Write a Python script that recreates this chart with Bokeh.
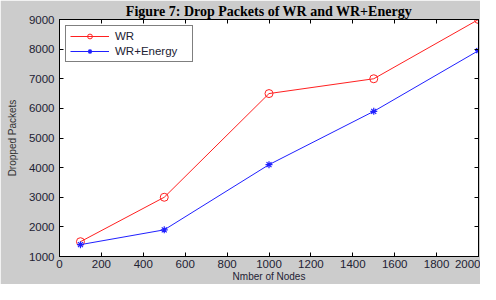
from bokeh.plotting import figure
from bokeh.models import Range1d, LinearAxis, Legend, LegendItem, FixedTicker, CustomJSTickFormatter
from bokeh.embed import file_html
from bokeh.resources import INLINE

# ---- data ----
nodes = [100, 500, 1000, 1500, 2000]
wr = [1500, 3000, 6500, 7000, 9000]
wr_energy = [1400, 1900, 4100, 5900, 7950]
x_ticks = [0, 200, 400, 600, 800, 1000, 1200, 1400, 1600, 1800, 2000]
y_ticks = [1000, 2000, 3000, 4000, 5000, 6000, 7000, 8000, 9000]
series_labels = ["WR", "WR+Energy"]
title_text = "Figure 7: Drop Packets of WR and WR+Energy"
x_label = "Nmber of Nodes"
y_label = "Dropped Packets"

FONT = "Liberation Sans"
TXT = "#222233"

p = figure(width=480, height=284,
           x_range=Range1d(0, 2000), y_range=Range1d(1000, 9000),
           output_backend="svg", toolbar_location=None,
           min_border_left=59, min_border_right=2, min_border_top=0, min_border_bottom=0,
           border_fill_color="#cccccc", background_fill_color="white",
           outline_line_color="black", outline_line_width=1)
p.grid.visible = False

p.title.text = title_text
p.title.text_font = "Liberation Serif"
p.title.text_font_style = "bold"
p.title.text_font_size = "14px"
p.title.text_color = "black"
p.title.align = "center"
p.title.standoff = 2
p.title.offset = 0

def style_axis(ax, ticks):
    ax.ticker = FixedTicker(ticks=ticks)
    ax.axis_line_color = "black"
    ax.major_tick_line_color = "black"
    ax.major_tick_in = 4
    ax.major_tick_out = 0
    ax.minor_tick_line_color = None
    ax.major_label_text_font = FONT
    ax.major_label_text_font_size = "11.5px"
    ax.major_label_text_color = TXT

style_axis(p.xaxis[0], x_ticks)
p.xaxis[0].major_label_standoff = 3
p.xaxis[0].axis_label = x_label
p.xaxis[0].axis_label_text_font = FONT
p.xaxis[0].axis_label_text_font_size = "10px"
p.xaxis[0].axis_label_text_font_style = "normal"
p.xaxis[0].axis_label_text_color = TXT
p.xaxis[0].axis_label_standoff = 0

style_axis(p.yaxis[0], y_ticks)
p.yaxis[0].major_label_standoff = 5
p.yaxis[0].axis_label = y_label
p.yaxis[0].axis_label_text_font = FONT
p.yaxis[0].axis_label_text_font_size = "10px"
p.yaxis[0].axis_label_text_font_style = "normal"
p.yaxis[0].axis_label_text_color = "#333333"
p.yaxis[0].axis_label_standoff = 8

blank = CustomJSTickFormatter(code="return ''")
top = LinearAxis(formatter=blank, major_label_standoff=0)
style_axis(top, x_ticks)
p.add_layout(top, "above")
right = LinearAxis(formatter=blank, major_label_standoff=0)
style_axis(right, y_ticks)
p.add_layout(right, "right")

l1 = p.line(nodes, wr, line_color="#ff2020", line_width=1)
m1 = p.scatter(nodes, wr, marker="circle", size=8, line_color="#ff2020", fill_color=None, line_width=1)
l2 = p.line(nodes, wr_energy, line_color="#2020ff", line_width=1)
m2 = p.scatter(nodes, wr_energy, marker="asterisk", size=7, line_color="#2020ff", line_width=1.2)

legend = Legend(items=[LegendItem(label=series_labels[0], renderers=[l1, m1]),
                       LegendItem(label=series_labels[1], renderers=[l2, m2])],
                location="top_left", border_line_color="black", border_line_width=1,
                background_fill_color="white", background_fill_alpha=1,
                padding=4, spacing=3, glyph_width=39, glyph_height=12,
                label_height=12, label_width=73, label_standoff=6, margin=6,
                label_text_font=FONT, label_text_font_size="11.5px", label_text_color=TXT)
p.add_layout(legend)

open("out.html", "w").write(file_html(p, INLINE))
